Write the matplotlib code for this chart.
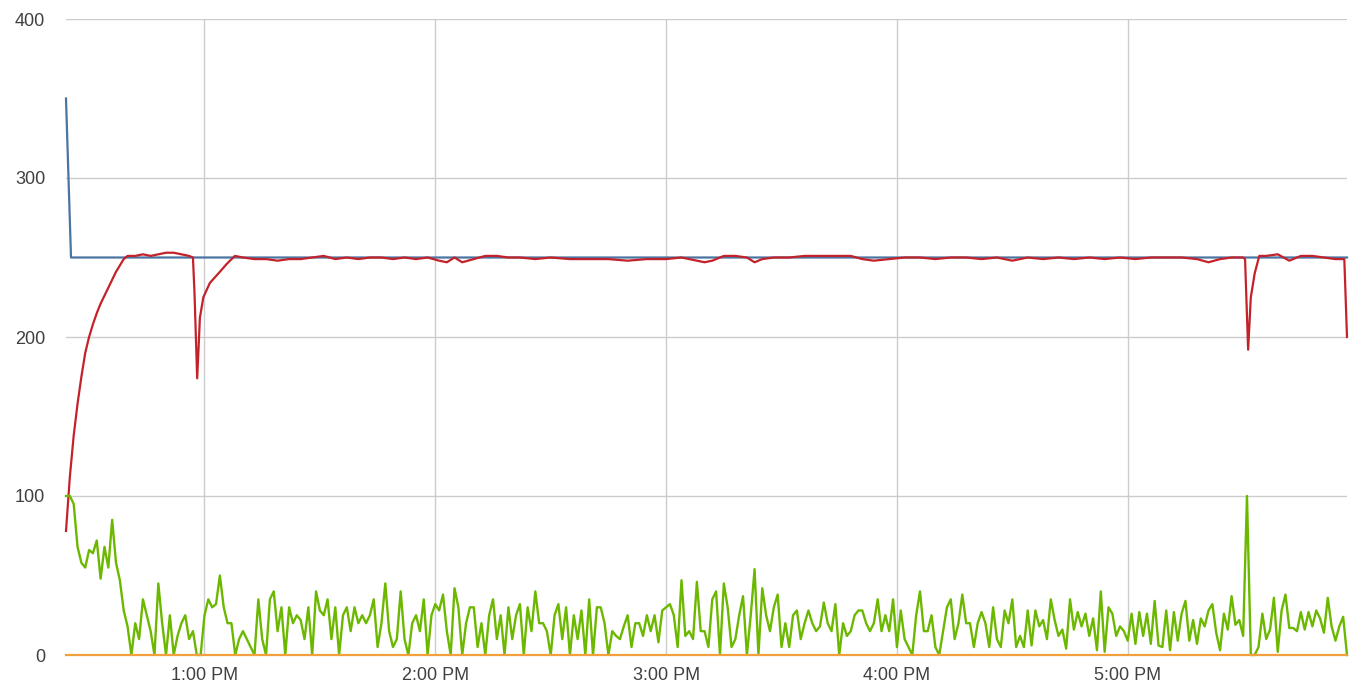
import numpy as np
import matplotlib
matplotlib.use("Agg")
import matplotlib.pyplot as plt

# x axis is minutes after 12:00 PM
hour_ticks = [60, 120, 180, 240, 300]
hour_labels = ["1:00 PM", "2:00 PM", "3:00 PM", "4:00 PM", "5:00 PM"]
y_ticks = [0, 100, 200, 300, 400]

# blue: target level
blue_t = [24, 25.3, 357]
blue_v = [350, 250, 250]

# orange: flat at zero
orange_t = [24, 357]
orange_v = [0, 0]

# red: measured level (time, value)
red_pts = [
    (24, 78), (25, 112), (26, 138), (27, 158), (28, 175), (29, 190), (30, 200),
    (31, 208), (32, 215), (33, 221), (34, 226), (35, 231), (36, 236), (37, 241),
    (38, 245), (39, 249), (40, 251), (42, 251), (44, 252), (46, 251), (48, 252),
    (50, 253), (52, 253), (54, 252), (56, 251), (57.0, 250), (57.4, 228),
    (58.1, 174), (58.5, 195), (58.8, 212), (59.7, 225), (61.4, 234), (64.0, 241),
    (65.8, 246), (67.9, 251), (70, 250), (73, 249), (76, 249), (79, 248),
    (82, 249), (85, 249), (88, 250), (91, 251), (94, 249), (97, 250), (100, 249),
    (103, 250), (106, 250), (109, 249), (112, 250), (115, 249), (118, 250),
    (121, 248), (123, 247), (125, 250), (127, 247), (130, 249), (133, 251),
    (136, 251), (139, 250), (142, 250), (146, 249), (150, 250), (155, 249),
    (160, 249), (165, 249), (170, 248), (175, 249), (180, 249), (184, 250),
    (188, 248), (190, 247), (192, 248), (195, 251), (198, 251), (201, 250),
    (203, 247), (205, 249), (208, 250), (212, 250), (216, 251), (220, 251),
    (224, 251), (228, 251), (231, 249), (234, 248), (238, 249), (242, 250),
    (246, 250), (250, 249), (254, 250), (258, 250), (262, 249), (266, 250),
    (270, 248), (274, 250), (278, 249), (282, 250), (286, 249), (290, 250),
    (294, 249), (298, 250), (302, 249), (306, 250), (310, 250), (314, 250),
    (318, 249), (321, 247), (324, 249), (327, 250), (330, 250), (330.5, 249),
    (331.3, 192), (332, 225), (333, 240), (334.2, 251), (336, 251), (339, 252),
    (342, 248), (345, 251), (348, 251), (351, 250), (354, 249), (356.3, 249),
    (357, 200),
]

# green: one reading per minute starting at 12:24 PM
green_start = 24
green = [
    100, 100, 95, 68, 58, 55, 66, 64, 72, 48,
    68, 55, 85, 58, 47, 28, 18, 0, 20, 10,
    35, 25, 15, 0, 45, 20, 0, 25, 0, 12,
    20, 25, 10, 15, 0, 0, 25, 35, 30, 32,
    50, 30, 20, 20, 0, 10, 15, 10, 5, 0,
    35, 10, 0, 35, 40, 15, 30, 0, 30, 20,
    25, 22, 10, 30, 0, 40, 28, 25, 35, 10,
    30, 0, 25, 30, 15, 30, 20, 25, 20, 25,
    35, 5, 20, 45, 15, 5, 10, 40, 10, 0,
    20, 25, 15, 35, 0, 25, 32, 28, 38, 15,
    0, 42, 30, 0, 20, 30, 30, 5, 20, 0,
    25, 35, 10, 25, 0, 30, 10, 25, 32, 0,
    30, 15, 40, 20, 20, 15, 0, 25, 32, 10,
    30, 0, 25, 10, 28, 0, 35, 0, 30, 30,
    20, 0, 15, 12, 10, 18, 25, 5, 20, 20,
    12, 25, 15, 25, 8, 28, 30, 32, 25, 5,
    47, 12, 15, 10, 46, 15, 15, 5, 35, 40,
    0, 45, 30, 5, 10, 25, 37, 0, 25, 54,
    0, 42, 25, 15, 30, 38, 5, 20, 5, 25,
    28, 10, 20, 28, 20, 15, 18, 33, 20, 15,
    32, 0, 20, 12, 15, 25, 28, 28, 20, 15,
    20, 35, 15, 25, 15, 35, 5, 28, 10, 5,
    0, 25, 40, 15, 15, 25, 5, 0, 15, 30,
    35, 10, 20, 38, 20, 20, 5, 20, 27, 20,
    5, 30, 10, 5, 28, 20, 35, 5, 12, 5,
    28, 6, 28, 18, 22, 10, 35, 22, 12, 16,
    4, 35, 16, 27, 18, 26, 12, 23, 3, 40,
    2, 30, 26, 12, 18, 15, 9, 26, 7, 27,
    12, 26, 7, 34, 6, 5, 28, 3, 27, 9,
    26, 34, 9, 22, 7, 23, 18, 28, 32, 14,
    3, 26, 16, 37, 19, 22, 12, 100, 0, 0,
    5, 26, 10, 16, 36, 2, 28, 38, 17, 17,
    15, 27, 16, 27, 18, 28, 23, 14, 36, 18,
    9, 18, 24, 0,
]

plt.rcParams['font.family'] = ['Liberation Sans', 'DejaVu Sans']

red_t, red_v = zip(*red_pts)
green_t = green_start + np.arange(len(green))

fig = plt.figure(figsize=(13.64, 6.91), dpi=100)
ax = fig.add_axes([66 / 1364, 36 / 691, 1281 / 1364, 636 / 691])

ax.plot(blue_t, blue_v, color="#4a75a3", lw=1.6, clip_on=False, zorder=3)
ax.plot(red_t, red_v, color="#c4222a", lw=1.6, clip_on=False, zorder=4)
ax.plot(green_t, green, color="#6cb800", lw=1.7, clip_on=False, zorder=5)
ax.plot(orange_t, orange_v, color="#f0a03c", lw=1.6, clip_on=False, zorder=6)

ax.set_xlim(24, 357)
ax.set_ylim(0, 400)
ax.set_xticks(hour_ticks)
ax.set_xticklabels(hour_labels)
ax.set_yticks(y_ticks)

ax.grid(True, color="#cccccc", lw=1)
ax.set_axisbelow(True)
for s in ax.spines.values():
    s.set_visible(False)
ax.tick_params(axis="both", length=0, labelsize=13, labelcolor="#404040")
ax.tick_params(axis="y", pad=15)
ax.tick_params(axis="x", pad=9)

fig.savefig("out.png", dpi=100)
